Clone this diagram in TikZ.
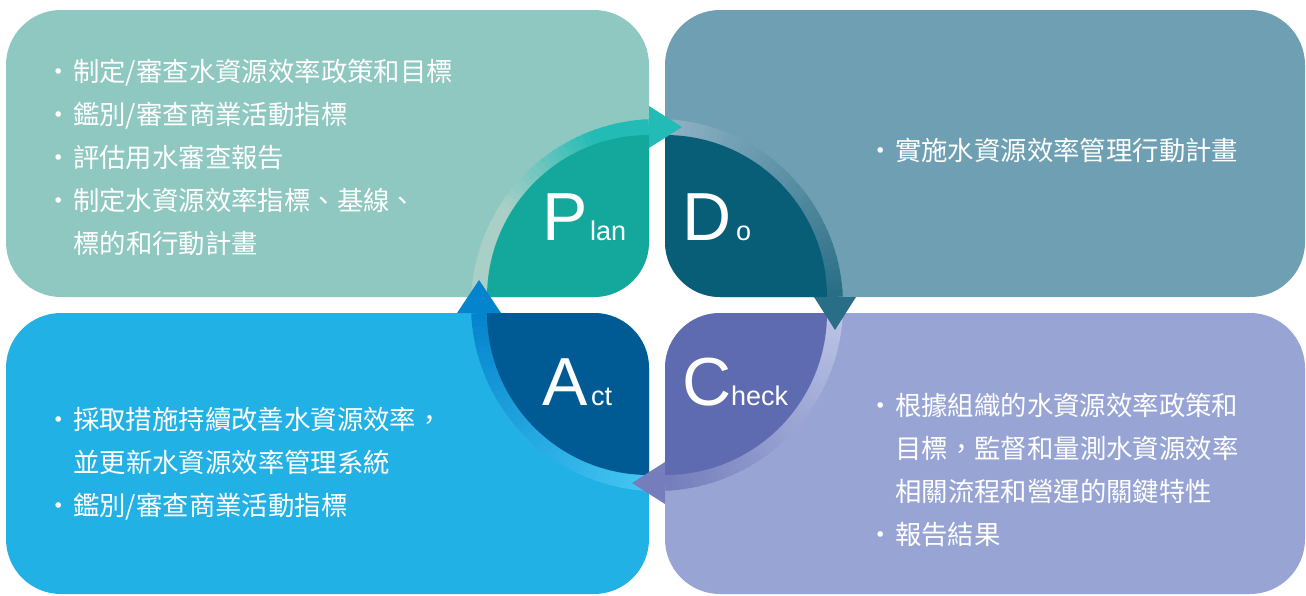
\documentclass[tikz,border=0pt]{standalone}
\usepackage{fontspec}
\newfontfamily\cjk{Noto Sans CJK TC}
\newfontfamily\lat{Liberation Sans}
\definecolor{planbox}{HTML}{8EC8C0}
\definecolor{dobox}{HTML}{6E9FB2}
\definecolor{actbox}{HTML}{22B1E5}
\definecolor{chkbox}{HTML}{98A5D4}
\definecolor{planpet}{HTML}{13A89B}
\definecolor{dopet}{HTML}{085E77}
\definecolor{actpet}{HTML}{005B94}
\definecolor{chkpet}{HTML}{5F6BB0}
\definecolor{planA}{HTML}{A9CFC6}
\definecolor{planB}{HTML}{22BBB5}
\definecolor{doA}{HTML}{8FB2C4}
\definecolor{doB}{HTML}{286E86}
\definecolor{chkA}{HTML}{BAC4E5}
\definecolor{chkB}{HTML}{757DBC}
\definecolor{actA}{HTML}{43C7F2}
\definecolor{actB}{HTML}{0584CE}
\newcommand\bulletmark{\makebox[18pt][l]{\hspace{-10pt}・}}
\newcommand\nobullet{\makebox[18pt]{}}
\newcommand\petalshape[2]{\begin{scope}[#1]\fill[#2] (-162,0) -- (-55,0) arc[start angle=90,end angle=0,radius=55] -- (0,-162) arc[start angle=270,end angle=180,radius=162] -- cycle;\end{scope}}
% #1 start angle, #2 end angle, #3 start colour, #4 end colour, #5/#6 where the blend starts/ends (0..1)
\newcommand\ringarc[6]{%
  \foreach \i in {0,...,39}{%
    \pgfmathsetmacro\sa{#1+(#2-#1)*\i/40}%
    \pgfmathsetmacro\ea{#1+(#2-#1)*min(\i+1.3,40)/40}%
    \pgfmathtruncatemacro\p{100*max(0,min(1,((\i/39)-#5)/(#6-#5)))}%
    \draw[line width=16pt, draw=#4!\p!#3] ([shift={(\sa:178)}]657,305) arc[start angle=\sa, end angle=\ea, radius=178];
  }}
\tikzset{
  txt/.style={text=white, align=left, inner sep=0pt, font=\cjk\fontsize{26.4}{43}\selectfont},
  bigletter/.style={text=white, inner sep=0pt, anchor=base west, font=\lat\fontsize{68}{68}\selectfont},
  smallletter/.style={text=white, inner sep=0pt, anchor=base west, font=\lat\fontsize{27}{27}\selectfont}
}
\begin{document}
\begin{tikzpicture}[x=1pt,y=-1pt]
\useasboundingbox (0,0) rectangle (1306,595);
\fill[white] (0,0) rectangle (1306,595);
% boxes
\fill[planbox, rounded corners=55pt] (6,10) rectangle (649,297);
\fill[dobox, rounded corners=55pt] (665,10) rectangle (1305,297);
\fill[actbox, rounded corners=55pt] (6,313) rectangle (649,594);
\fill[chkbox, rounded corners=55pt] (665,313) rectangle (1305,594);
% ring
\ringarc{182.6}{267.4}{planA}{planB}{0.35}{0.8}
\ringarc{272.6}{357.4}{doA}{doB}{0}{1}
\ringarc{2.6}{87.4}{chkA}{chkB}{0}{1}
\ringarc{92.6}{177.4}{actA}{actB}{0}{1}
% petals
\petalshape{shift={(649,297)}}{planpet}
\petalshape{shift={(665,297)},xscale=-1}{dopet}
\petalshape{shift={(649,313)},yscale=-1}{actpet}
\petalshape{shift={(665,313)},xscale=-1,yscale=-1}{chkpet}
% arrowheads
\fill[planB] (649,106) -- (682,127) -- (649,148) -- cycle;
\fill[doB] (814,297) -- (835,330) -- (856,297) -- cycle;
\fill[chkB] (665,462) -- (632,483) -- (665,504) -- cycle;
\fill[actB] (457,313) -- (479,280) -- (501,313) -- cycle;
% letters
\node[bigletter] (P) at (542,240) {P};
\node[smallletter] (lan) at (590,240) {lan};
\node[bigletter] (D) at (682,240) {D};
\node[smallletter] (o) at (736,240) {o};
\node[bigletter] (A) at (542,405) {A};
\node[smallletter] (ct) at (591,405) {ct};
\node[bigletter] (C) at (682,405) {C};
\node[smallletter] (heck) at (731,405) {heck};
% texts
\node[txt, anchor=west] (plantext) at (55,157.5) {\bulletmark 制定/審查水資源效率政策和目標\\ \bulletmark 鑑別/審查商業活動指標\\ \bulletmark 評估用水審查報告\\ \bulletmark 制定水資源效率指標、基線、\\ \nobullet 標的和行動計畫};
\node[txt, anchor=west] (dotext) at (877,150) {\bulletmark 實施水資源效率管理行動計畫};
\node[txt, anchor=west] (checktext) at (877,469.5) {\bulletmark 根據組織的水資源效率政策和\\ \nobullet 目標，監督和量測水資源效率\\ \nobullet 相關流程和營運的關鍵特性\\ \bulletmark 報告結果};
\node[txt, anchor=west] (acttext) at (55,464) {\bulletmark 採取措施持續改善水資源效率，\\ \nobullet 並更新水資源效率管理系統\\ \bulletmark 鑑別/審查商業活動指標};
\end{tikzpicture}
\end{document}
